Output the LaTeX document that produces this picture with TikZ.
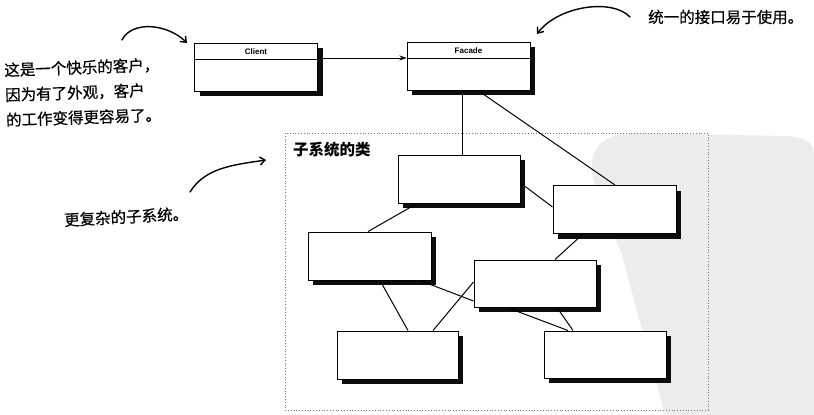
\documentclass[tikz,border=0pt]{standalone}
\usepackage{fontspec}
\setmainfont{Liberation Sans}
\newfontfamily\cjk{Noto Sans CJK SC}
\newfontfamily\cjkhand[FakeBold=0.5]{Noto Sans CJK SC}
\usetikzlibrary{arrows.meta,shadows,calc}
\definecolor{sealgray}{RGB}{236,236,236}
\definecolor{dotgray}{RGB}{120,120,120}
\tikzset{
  umlbox/.style={draw=black, line width=1pt, fill=white, minimum width=123pt, minimum height=48pt, inner sep=0pt,
    drop shadow={shadow xshift=5pt, shadow yshift=-5pt, fill=black, opacity=0.95}},
  classname/.style={font=\fontsize{8}{9}\selectfont\bfseries, inner sep=0pt},
  link/.style={line width=1pt},
  note/.style={font=\cjkhand\fontsize{15.5}{25}\selectfont, inner sep=0pt, align=left},
  handarrow/.style={line width=1.4pt, line cap=round, -{Straight Barb[length=5pt,width=8pt]}},
  assoc/.style={line width=1pt, -{Stealth[length=7pt,width=5pt]}}
}
\begin{document}
\begin{tikzpicture}[x=1pt,y=-1pt]
\useasboundingbox (0,0) rectangle (814,415);
% seal watermark
\fill[sealgray] (596,190) .. controls (586,158) and (592,134) .. (635,133) -- (785,136) .. controls (805,137) and (814,142) .. (814,155) -- (814,415) -- (665,415) -- (622,255) -- cycle;
% subsystem frame
\draw[dotgray, line width=0.8pt, dotted] (285,133) rectangle (708,410);
\node[font=\cjk\bfseries\fontsize{15.5}{17}\selectfont, anchor=west, inner sep=0pt] (frametitle) at (293,150) {子系统的类};
% top boxes
\node[umlbox] (client) at (256,67) {};
\node[umlbox] (facade) at (468.5,66) {};
\draw[link] ([yshift=-17pt]client.north west) -- ([yshift=-17pt]client.north east);
\draw[link] ([yshift=-17pt]facade.north west) -- ([yshift=-17pt]facade.north east);
\node[classname] (clientname) at ([yshift=-9pt]client.north) {Client};
\node[classname] (facadename) at ([yshift=-9pt]facade.north) {Facade};
% subsystem boxes
\node[umlbox, minimum width=122pt] (b1) at (459,179) {};
\node[umlbox] (b2) at (614.5,209.5) {};
\node[umlbox] (b3) at (369.5,256) {};
\node[umlbox, minimum width=122pt, minimum height=47pt] (b4) at (535,283.5) {};
\node[umlbox, minimum width=121pt] (b5) at (397.5,355) {};
\node[umlbox, minimum width=122pt, minimum height=47pt] (b6) at (605,354.5) {};
% connectors
\draw[assoc] ([yshift=9pt]client.east) -- ([yshift=9pt]client.east -| facade.west);
\draw[link] ([xshift=3pt]b1.north |- facade.south) -- ([xshift=3pt]b1.north);
\draw[link] ([xshift=9.5pt]facade.south) -- ([xshift=0.5pt]b2.north);
\draw[link] ([yshift=-4pt]b1.east) -- ([yshift=2.5pt]b2.west);
\draw[link] ([xshift=-42pt]b1.south) -- ([xshift=-1.5pt]b3.north);
\draw[link] ([xshift=-31.5pt]b2.south) -- ([xshift=20pt]b4.north);
\draw[link] ([xshift=10.5pt]b3.south) -- ([xshift=10.5pt]b5.north);
\draw[link] ([yshift=1.5pt]b4.west) -- ([xshift=35.5pt]b5.north);
\draw[link] ([xshift=50.5pt]b3.south) -- ([yshift=-17.5pt]b4.west);
\draw[link] ([xshift=22pt]b4.south) -- ([xshift=-32pt]b6.north);
\draw[link] ([xshift=-28pt]b4.south) -- ([xshift=-37pt]b6.north);
% notes
\node[note, anchor=west, rotate=2] (leftnote) at (5,95) {这是一个快乐的客户，\\因为有了外观，客户\\的工作变得更容易了。};
\node[note, anchor=west] (rightnote) at (648,17) {统一的接口易于使用。};
\node[note, anchor=west, rotate=3] (subnote) at (64,220) {更复杂的子系统。};
% hand arrows
\coordinate (a1s) at (122,40);
\coordinate (a1e) at (187,43);
\draw[handarrow] (a1s) .. controls (132,20) and (168,24) .. (a1e);
\coordinate (a2s) at (630,17);
\coordinate (a2e) at (537,34);
\draw[handarrow] (a2s) .. controls (612,-2) and (558,6) .. (a2e);
\coordinate (a3s) at (190,192);
\coordinate (a3e) at (266,160);
\draw[handarrow] (a3s) .. controls (205,168) and (232,165) .. (a3e);
\end{tikzpicture}
\end{document}
